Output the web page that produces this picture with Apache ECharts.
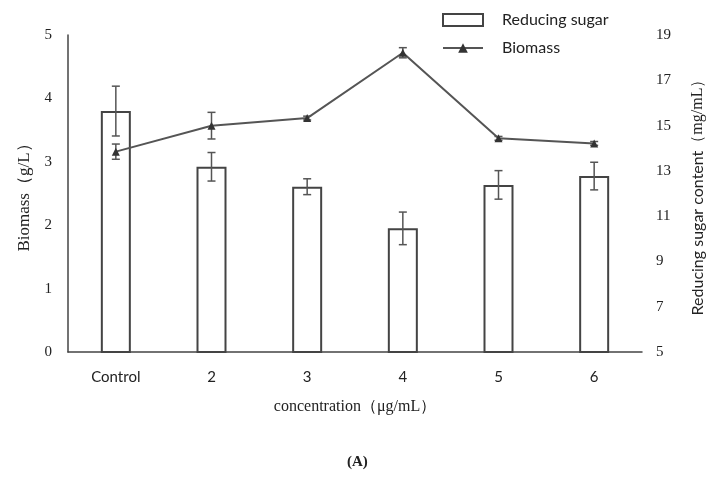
<!DOCTYPE html>
<html>
<head>
<meta charset="utf-8">
<script src="https://cdn.jsdelivr.net/npm/echarts@6/dist/echarts.min.js"></script>
<style>
html,body{margin:0;padding:0;background:#fff;}
#chart{width:717px;height:489px;}
</style>
</head>
<body>
<div id="chart"></div>
<script>
var categories = ['Control', '2', '3', '4', '5', '6'];
var sugarValues = [15.64, 13.18, 12.30, 10.46, 12.38, 12.77];
var sugarErr = [1.10, 0.63, 0.35, 0.72, 0.63, 0.61];
var biomassValues = [3.16, 3.57, 3.69, 4.72, 3.37, 3.29];
var biomassErr = [0.12, 0.21, 0.03, 0.08, 0.03, 0.03];
var leftTicks = [0, 1, 2, 3, 4, 5];
var rightTicks = [5, 7, 9, 11, 13, 15, 17, 19];

function errData(vals, errs) {
  return vals.map(function (v, i) { return [i, v - errs[i], v + errs[i]]; });
}
function errRender(params, api) {
  var x = api.value(0);
  var lo = api.coord([x, api.value(1)]);
  var hi = api.coord([x, api.value(2)]);
  var cap = 4;
  var st = { stroke: '#555', lineWidth: 1.5 };
  return {
    type: 'group',
    children: [
      { type: 'line', shape: { x1: lo[0], y1: lo[1], x2: hi[0], y2: hi[1] }, style: st },
      { type: 'line', shape: { x1: lo[0] - cap, y1: lo[1], x2: lo[0] + cap, y2: lo[1] }, style: st },
      { type: 'line', shape: { x1: hi[0] - cap, y1: hi[1], x2: hi[0] + cap, y2: hi[1] }, style: st }
    ]
  };
}

var chart = echarts.init(document.getElementById('chart'));
chart.setOption({
  animation: false,
  backgroundColor: '#fff',
  grid: { left: 68, right: 75, top: 35, bottom: 137 },
  legend: {
    orient: 'vertical',
    left: 437,
    top: 7,
    itemWidth: 40,
    itemHeight: 12,
    itemGap: 12,
    textStyle: { fontFamily: 'Lato', fontSize: 16, color: '#222', padding: [0, 0, 0, 14] },
    data: [{ name: 'Reducing sugar', icon: 'rect' }, { name: 'Biomass' }]
  },
  xAxis: {
    type: 'category',
    data: categories,
    axisLine: { lineStyle: { color: '#444', width: 1.5 } },
    axisTick: { show: false },
    axisLabel: {
      margin: 18,
      color: '#222',
      fontSize: 15,
      fontFamily: 'Lato'
    },
    name: 'concentration（μg/mL）',
    nameLocation: 'middle',
    nameGap: 47,
    nameTextStyle: { fontFamily: 'Liberation Serif', fontSize: 16, color: '#222' }
  },
  yAxis: [
    {
      type: 'value',
      min: leftTicks[0],
      max: leftTicks[leftTicks.length - 1],
      interval: 1,
      axisLine: { show: true, lineStyle: { color: '#444', width: 1.5 } },
      axisTick: { show: false },
      splitLine: { show: false },
      axisLabel: { margin: 16, color: '#222', fontSize: 15, fontFamily: 'Liberation Serif' },
      name: 'Biomass（g/L）',
      nameLocation: 'middle',
      nameGap: 35,
      nameTextStyle: { fontFamily: 'Liberation Serif', fontSize: 17, color: '#222' }
    },
    {
      type: 'value',
      min: rightTicks[0],
      max: rightTicks[rightTicks.length - 1],
      interval: 2,
      axisLine: { show: false },
      axisTick: { show: false },
      splitLine: { show: false },
      axisLabel: { margin: 14, color: '#222', fontSize: 15, fontFamily: 'Liberation Serif' },
      name: '{a|Reducing sugar content}{b|（mg/mL）}',
      nameLocation: 'middle',
      nameGap: 48,
      nameTextStyle: {
        color: '#222',
        rich: {
          a: { fontFamily: 'Lato', fontSize: 16, color: '#222' },
          b: { fontFamily: 'Liberation Serif', fontSize: 16, color: '#222' }
        }
      }
    }
  ],
  series: [
    {
      name: 'Reducing sugar',
      type: 'bar',
      yAxisIndex: 1,
      data: sugarValues,
      barWidth: 30,
      itemStyle: { color: '#fff', borderColor: '#444', borderWidth: 2 },
      z: 2
    },
    {
      name: 'sugarErr',
      type: 'custom',
      yAxisIndex: 1,
      renderItem: errRender,
      data: errData(sugarValues, sugarErr),
      z: 3
    },
    {
      name: 'Biomass',
      type: 'line',
      yAxisIndex: 0,
      data: biomassValues,
      symbol: 'triangle',
      symbolSize: 8,
      lineStyle: { color: '#555', width: 2 },
      itemStyle: { color: '#333' },
      z: 5
    },
    {
      name: 'biomassErr',
      type: 'custom',
      yAxisIndex: 0,
      renderItem: errRender,
      data: errData(biomassValues, biomassErr),
      z: 4
    }
  ],
  graphic: [
    {
      type: 'text',
      left: 347,
      top: 455,
      style: { text: '(A)', font: 'bold 15px "Liberation Serif"', fill: '#222' }
    }
  ]
});
</script>
</body>
</html>
